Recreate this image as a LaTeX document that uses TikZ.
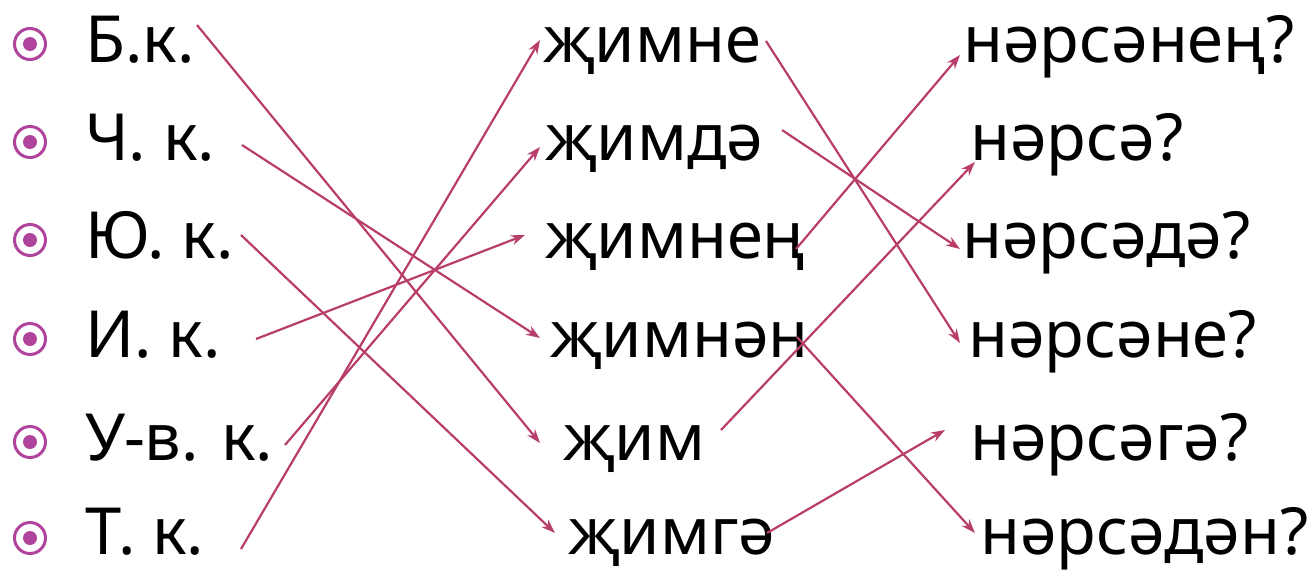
\documentclass[tikz,border=0pt]{standalone}
\usepackage{fontspec}
\setmainfont{Noto Sans}
\usetikzlibrary{arrows.meta}
\definecolor{arrcol}{HTML}{B83D6A}
\definecolor{bulcol}{HTML}{B0449C}
\begin{document}
\begin{tikzpicture}[x=1pt,y=-1pt,
  lbl/.style={anchor=base west,inner sep=0pt,font=\fontsize{65}{70}\selectfont},
  arr/.style={draw=arrcol,line width=2.2pt,-{Stealth[length=14pt,width=10pt]}},
  bul/.style={circle,draw=bulcol,line width=3pt,minimum size=31pt,inner sep=0pt,
    path picture={\fill[bulcol] (path picture bounding box.center) circle (7pt);}}]
\useasboundingbox (0,0) rectangle (1315,571);
% bullets
\foreach \y/\n in {44/b1,142/b2,240/b3,339/b4,442/b5,538/b6}
  \node[bul] (\n) at (30,\y) {};
% left column
\node[lbl] (bk)  at (85,62)  {Б.к.};
\node[lbl] (ck)  at (85,160) {Ч. к.};
\node[lbl] (yuk) at (85,258) {Ю. к.};
\node[lbl] (ik)  at (85,357) {И. к.};
\node[lbl] (uvk) at (85,460) {У-в. к.};
\node[lbl] (tk)  at (85,554) {Т. к.};
% middle column
\node[lbl] (m1) at (543,62)  {җимне};
\node[lbl] (m2) at (545,160) {җимдә};
\node[lbl] (m3) at (545,258) {җимнең};
\node[lbl] (m4) at (550,357) {җимнән};
\node[lbl] (m5) at (563,460) {җим};
\node[lbl] (m6) at (568,554) {җимгә};
% right column
\node[lbl] (r1) at (963,62)  {нәрсәнең?};
\node[lbl] (r2) at (970,160) {нәрсә?};
\node[lbl] (r3) at (962,258) {нәрсәдә?};
\node[lbl] (r4) at (968,357) {нәрсәне?};
\node[lbl] (r5) at (970,460) {нәрсәгә?};
\node[lbl] (r6) at (980,554) {нәрсәдән?};
% connectors left -> middle
\draw[arr] ([shift={(112,-37)}]bk.base west)  -- ([shift={(-23,-17)}]m5.base west);
\draw[arr] ([shift={(157,-15)}]ck.base west)  -- ([shift={(-10,-19)}]m4.base west);
\draw[arr] ([shift={(156,-23)}]yuk.base west) -- ([shift={(-13,-21)}]m6.base west);
\draw[arr] ([shift={(171,-18)}]ik.base west)  -- ([shift={(-20,-23)}]m3.base west);
\draw[arr] ([shift={(200,-15)}]uvk.base west) -- ([shift={(-5,-13)}]m2.base west);
\draw[arr] ([shift={(156,-5)}]tk.base west)   -- ([shift={(-3,-22)}]m1.base west);
% connectors middle -> right
\draw[arr] ([shift={(223,-21)}]m1.base west) -- ([shift={(-8,-14)}]r4.base west);
\draw[arr] ([shift={(237,-30)}]m2.base west) -- ([shift={(-2,-9)}]r3.base west);
\draw[arr] ([shift={(251,-9)}]m3.base west)  -- ([shift={(-3,-7)}]r1.base west);
\draw[arr] ([shift={(247,-20)}]m4.base west) -- ([shift={(-5,-21)}]r6.base west);
\draw[arr] ([shift={(158,-30)}]m5.base west) -- ([shift={(5,2)}]r2.base west);
\draw[arr] ([shift={(199,-21)}]m6.base west) -- ([shift={(-25,-30)}]r5.base west);
\end{tikzpicture}
\end{document}
